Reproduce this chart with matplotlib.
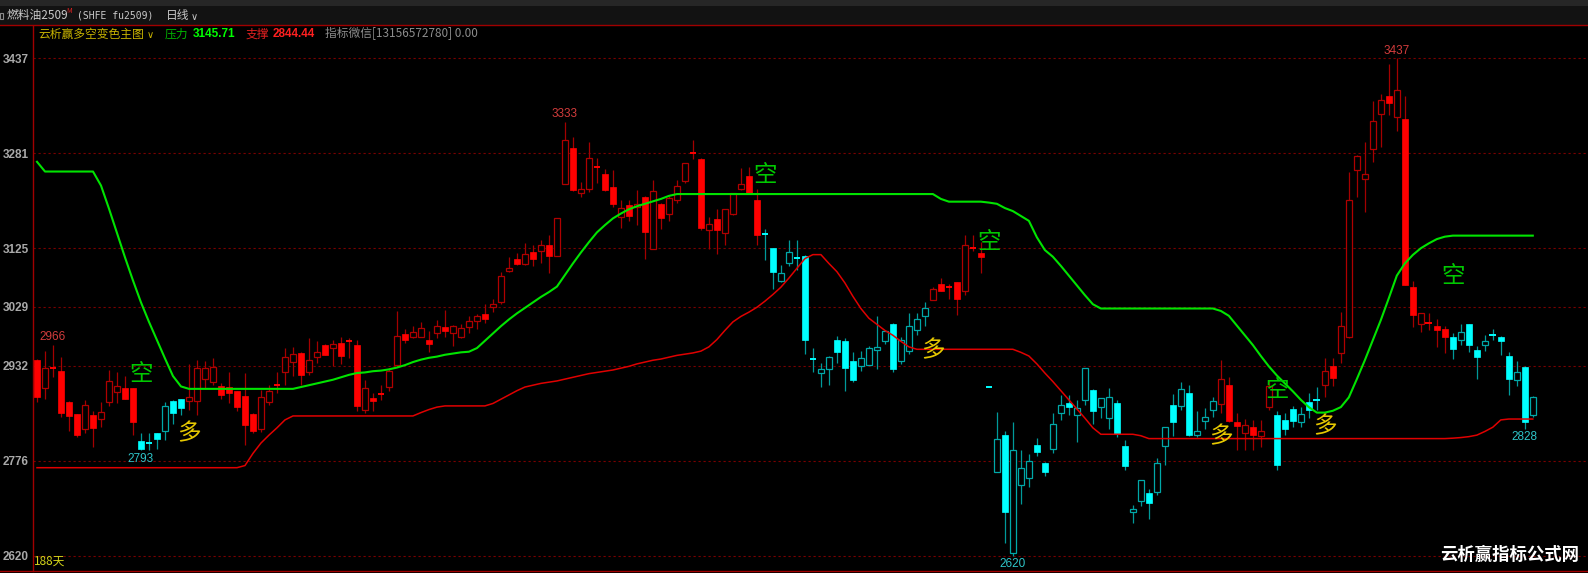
import matplotlib
matplotlib.use('Agg')
import matplotlib.pyplot as plt
from matplotlib.patches import Rectangle
from matplotlib.lines import Line2D

plt.rcParams['font.family'] = ['Noto Sans CJK SC', 'DejaVu Sans']

# ---- data (fu2509 daily, 188 bars) ----
opens = [
    2942, 2895, 2929, 2923, 2873, 2852, 2828, 2851, 2844, 2872,
    2889, 2895, 2895, 2808, 2805, 2821, 2825, 2874, 2877, 2874,
    2874, 2910, 2906, 2899, 2897, 2890, 2882, 2853, 2828, 2873,
    2900, 2921, 2938, 2953, 2921, 2946, 2966, 2961, 2970, 2972,
    2966, 2859, 2879, 2886, 2897, 2933, 2984, 2980, 2980, 2974,
    2985, 2996, 2986, 2980, 2996, 3006, 3017, 3028, 3037, 3088,
    3108, 3099, 3119, 3121, 3130, 3113, 3230, 3290, 3215, 3222,
    3258, 3247, 3225, 3176, 3196, 3193, 3209, 3124, 3198, 3182,
    3204, 3235, 3281, 3272, 3155, 3173, 3150, 3182, 3222, 3243,
    3205, 3149, 3125, 3072, 3100, 3109, 3113, 2943, 2920, 2927,
    2975, 2973, 2940, 2931, 2934, 2958, 2973, 3000, 2939, 2957,
    2990, 3014, 3040, 3066, 3061, 3069, 3054, 3125, 3117, 2897,
    2758, 2819, 2625, 2736, 2747, 2801, 2773, 2795, 2855, 2871,
    2851, 2876, 2892, 2865, 2846, 2871, 2800, 2691, 2709, 2723,
    2725, 2800, 2867, 2866, 2888, 2818, 2841, 2860, 2869, 2901,
    2840, 2821, 2832, 2816, 2865, 2851, 2843, 2861, 2840, 2873,
    2875, 2900, 2932, 2953, 2979, 3253, 3238, 3288, 3346, 3375,
    3340, 3338, 3062, 3001, 3003, 2997, 2993, 2979, 2974, 3000,
    2958, 2966, 2983, 2980, 2948, 2909, 2930, 2851,
]
highs = [
    2943, 2956, 2966, 2946, 2874, 2853, 2875, 2857, 2872, 2925,
    2921, 2915, 2896, 2821, 2822, 2822, 2873, 2875, 2878, 2935,
    2942, 2940, 2944, 2903, 2921, 2891, 2920, 2854, 2892, 2900,
    2922, 2961, 2963, 2954, 2977, 2973, 2967, 2975, 2980, 2977,
    2974, 2908, 2888, 2900, 2928, 3022, 2993, 2997, 3004, 2989,
    3007, 3023, 2999, 3000, 3014, 3017, 3034, 3041, 3086, 3111,
    3117, 3134, 3131, 3139, 3146, 3174, 3333, 3307, 3234, 3299,
    3273, 3255, 3253, 3204, 3204, 3221, 3210, 3237, 3199, 3210,
    3237, 3265, 3302, 3273, 3177, 3189, 3190, 3216, 3256, 3259,
    3223, 3156, 3126, 3098, 3139, 3139, 3114, 2961, 2937, 2948,
    2981, 2978, 2954, 2957, 2964, 3014, 2989, 3002, 2980, 3018,
    3018, 3036, 3061, 3076, 3066, 3070, 3146, 3146, 3136, 2897,
    2856, 2824, 2840, 2793, 2787, 2813, 2774, 2854, 2884, 2884,
    2876, 2928, 2893, 2879, 2895, 2876, 2810, 2703, 2744, 2729,
    2780, 2832, 2886, 2906, 2900, 2857, 2862, 2881, 2941, 2914,
    2854, 2844, 2843, 2843, 2909, 2857, 2854, 2866, 2865, 2887,
    2897, 2944, 2944, 3021, 3251, 3278, 3300, 3367, 3378, 3428,
    3437, 3375, 3072, 3019, 3018, 3008, 2997, 2986, 3001, 3001,
    2965, 2983, 2992, 2981, 2954, 2939, 2931, 2883,
]
lows = [
    2873, 2878, 2913, 2848, 2824, 2815, 2822, 2798, 2832, 2866,
    2871, 2877, 2818, 2793, 2794, 2795, 2810, 2836, 2851, 2859,
    2851, 2895, 2900, 2878, 2871, 2857, 2802, 2822, 2823, 2868,
    2887, 2901, 2915, 2900, 2917, 2936, 2950, 2931, 2935, 2945,
    2858, 2855, 2858, 2876, 2891, 2930, 2970, 2978, 2979, 2954,
    2977, 2979, 2965, 2978, 2985, 2992, 3002, 3020, 3033, 3086,
    3098, 3098, 3095, 3100, 3084, 3113, 3230, 3219, 3209, 3218,
    3232, 3219, 3192, 3158, 3170, 3163, 3107, 3124, 3157, 3170,
    3200, 3232, 3272, 3155, 3124, 3116, 3130, 3180, 3221, 3215,
    3130, 3106, 3058, 3070, 3096, 3090, 2952, 2922, 2897, 2901,
    2936, 2891, 2905, 2924, 2933, 2927, 2968, 2921, 2935, 2952,
    2983, 2997, 3040, 3054, 3041, 3015, 3048, 3120, 3085, 2897,
    2758, 2640, 2620, 2705, 2732, 2783, 2751, 2789, 2843, 2851,
    2807, 2868, 2837, 2846, 2828, 2815, 2761, 2674, 2701, 2681,
    2720, 2769, 2817, 2860, 2817, 2815, 2828, 2848, 2854, 2840,
    2794, 2793, 2794, 2799, 2859, 2761, 2818, 2832, 2831, 2846,
    2859, 2881, 2898, 2937, 2978, 3209, 3184, 3267, 3292, 3344,
    3317, 3064, 2996, 2988, 2990, 2962, 2953, 2943, 2966, 2955,
    2910, 2957, 2975, 2950, 2884, 2898, 2828, 2847,
]
closes = [
    2880, 2928, 2928, 2855, 2850, 2818, 2867, 2829, 2856, 2907,
    2899, 2877, 2839, 2796, 2804, 2812, 2866, 2855, 2862, 2880,
    2929, 2929, 2930, 2884, 2888, 2865, 2834, 2825, 2881, 2891,
    2899, 2946, 2951, 2917, 2941, 2954, 2950, 2967, 2948, 2971,
    2866, 2895, 2874, 2885, 2924, 2981, 2975, 2987, 2994, 2968,
    2997, 2989, 2998, 2994, 3005, 3014, 3009, 3033, 3080, 3092,
    3099, 3115, 3107, 3131, 3112, 3174, 3302, 3220, 3222, 3273,
    3257, 3220, 3197, 3191, 3178, 3198, 3152, 3219, 3175, 3207,
    3227, 3265, 3280, 3158, 3164, 3155, 3190, 3215, 3231, 3215,
    3147, 3148, 3086, 3084, 3119, 3108, 2975, 2942, 2926, 2947,
    2955, 2929, 2908, 2944, 2961, 2963, 2989, 2927, 2975, 2997,
    3008, 3027, 3058, 3054, 3060, 3042, 3131, 3124, 3110, 2897,
    2811, 2691, 2794, 2764, 2776, 2791, 2758, 2837, 2868, 2864,
    2863, 2928, 2857, 2879, 2880, 2820, 2767, 2696, 2744, 2707,
    2773, 2832, 2839, 2893, 2818, 2824, 2847, 2874, 2910, 2841,
    2833, 2835, 2819, 2824, 2898, 2769, 2828, 2841, 2853, 2859,
    2874, 2924, 2912, 2997, 3205, 3277, 3247, 3334, 3369, 3363,
    3385, 3065, 3015, 3019, 3002, 2990, 2979, 2960, 2988, 2966,
    2947, 2972, 2982, 2972, 2911, 2922, 2839, 2880,
]

# 压力 (resistance, green) and 支撑 (support, red)
resist = [
    3267, 3251, 3251, 3251, 3251, 3251, 3251, 3251, 3228, 3190,
    3150, 3110, 3072, 3036, 3004, 2974, 2944, 2915, 2898, 2894,
    2894, 2894, 2894, 2894, 2894, 2894, 2894, 2894, 2894, 2894,
    2894, 2894, 2894, 2897, 2900, 2903, 2906, 2909, 2913, 2917,
    2920, 2921, 2923, 2924, 2926, 2929, 2933, 2938, 2942, 2945,
    2947, 2950, 2952, 2954, 2955, 2961, 2973, 2985, 2997, 3008,
    3018, 3027, 3036, 3045, 3053, 3062, 3081, 3100, 3118, 3135,
    3151, 3163, 3174, 3182, 3189, 3194, 3198, 3202, 3206, 3211,
    3214, 3214, 3214, 3214, 3214, 3214, 3214, 3214, 3214, 3214,
    3214, 3214, 3214, 3214, 3214, 3214, 3214, 3214, 3214, 3214,
    3214, 3214, 3214, 3214, 3214, 3214, 3214, 3214, 3214, 3214,
    3214, 3214, 3214, 3206, 3201.5, 3201.5, 3201.5, 3201.5, 3201.5, 3200,
    3198, 3191, 3186, 3178, 3170, 3143, 3122, 3111, 3096, 3080,
    3064, 3048, 3033, 3026, 3026, 3026, 3026, 3026, 3026, 3026,
    3026, 3026, 3026, 3026, 3026, 3026, 3026, 3026, 3022, 3014,
    2998, 2982, 2966, 2948, 2931, 2916, 2903, 2890, 2876, 2864,
    2855, 2855, 2858, 2864, 2880, 2910, 2941, 2974, 3007, 3043,
    3080, 3100, 3114, 3125, 3133, 3140, 3144, 3145.71, 3145.71, 3145.71,
    3145.71, 3145.71, 3145.71, 3145.71, 3145.71, 3145.71, 3145.71, 3145.71,
]
support = [
    2764.5, 2764.5, 2764.5, 2764.5, 2764.5, 2764.5, 2764.5, 2764.5, 2764.5, 2764.5,
    2764.5, 2764.5, 2764.5, 2764.5, 2764.5, 2764.5, 2764.5, 2764.5, 2764.5, 2764.5,
    2764.5, 2764.5, 2764.5, 2764.5, 2764.5, 2764.5, 2768, 2788, 2805, 2818,
    2830, 2843, 2849.5, 2849.5, 2849.5, 2849.5, 2849.5, 2849.5, 2849.5, 2849.5,
    2849.5, 2849.5, 2849.5, 2849.5, 2849.5, 2849.5, 2849.5, 2849.5, 2855, 2860,
    2864, 2866, 2866, 2866, 2866, 2866, 2866, 2870, 2877, 2884,
    2891, 2897, 2900, 2903, 2905, 2907, 2910, 2913, 2916, 2919,
    2921, 2923, 2925, 2928, 2931, 2935, 2938, 2941, 2943, 2946,
    2949, 2951, 2953, 2956, 2963, 2975, 2990, 3004, 3013, 3020,
    3028, 3038, 3049, 3061, 3076, 3092, 3108, 3114.5, 3114.5, 3100,
    3086.5, 3068, 3046, 3026, 3010, 3000, 2990, 2982, 2972, 2963,
    2959, 2959, 2959, 2959, 2959, 2959, 2959, 2959, 2959, 2959,
    2959, 2959, 2959, 2954, 2948, 2935, 2920, 2906, 2891, 2876,
    2861, 2846, 2830, 2819.4, 2819.4, 2819.4, 2819.4, 2819.4, 2817, 2812.3,
    2812.3, 2812.3, 2812.3, 2812.3, 2812.3, 2812.3, 2812.3, 2812.3, 2812.3, 2812.3,
    2812.3, 2812.3, 2812.3, 2812.3, 2812.3, 2812.3, 2812.3, 2812.3, 2812.3, 2812.3,
    2812.3, 2812.3, 2812.3, 2812.3, 2812.3, 2812.3, 2812.3, 2812.3, 2812.3, 2812.3,
    2812.3, 2812.3, 2812.3, 2812.3, 2812.3, 2812.3, 2812.3, 2813, 2814, 2815.5,
    2818, 2824, 2831, 2843, 2844.44, 2844.44, 2844.44, 2844.44,
]

# signal bars: 空 -> bars turn cyan, 多 -> bars turn red
sig_idx = [13, 19, 91, 112, 119, 148, 155, 161, 177]
sig_txt = ['空', '多', '空', '多', '空', '多', '空', '多', '空']
sig_price = [2917, 2821, 3244, 2956, 3135, 2816, 2892, 2831, 3078]

peak_idx = [2, 66, 170]
trough_idx = [13, 122, 186]
yticks = [3437, 3281, 3125, 3029, 2932, 2776, 2620]

n = len(closes)
idx = list(range(n))

# bar colour state from signals
cyan_state = []
state = False
sig_map = dict(zip(sig_idx, sig_txt))
for i in idx:
    if i in sig_map:
        state = sig_map[i] == '空'
    cyan_state.append(state)

W, H = 1588, 573
fx = lambda x: x / W
fy = lambda y: 1 - y / H

fig = plt.figure(figsize=(W / 100, H / 100), dpi=100, facecolor='black')
fig.patches.append(Rectangle((0, fy(25)), 1, 25 / H, transform=fig.transFigure,
                             facecolor='#121212', edgecolor='none', zorder=0))
fig.patches.append(Rectangle((0, fy(6)), 1, 6 / H, transform=fig.transFigure,
                             facecolor='#262626', edgecolor='none', zorder=0))

ax = fig.add_axes([fx(33), fy(570.7), (W - 33) / W, (570.7 - 25) / H])
ax.set_facecolor('black')
ax.set_xlim(-0.5, 193.9)
ax.set_ylim(2595.3, 3491.7)
for s in ['top', 'right', 'bottom']:
    ax.spines[s].set_visible(False)
ax.spines['left'].set_color('#a00000')
ax.spines['left'].set_linewidth(1)

for t in yticks:
    ax.axhline(t, color='#7a0000', lw=0.8, ls=(0, (2, 2.5)), zorder=0.5)
ax.set_xticks([])
ax.set_yticks(yticks)
ax.set_yticklabels([str(t) for t in yticks], fontfamily='Liberation Sans',
                   fontweight='bold', fontsize=8.5, color='#a9a9a9')
ax.tick_params(axis='y', length=0, pad=3)

# candles
for i in idx:
    o, h, l, c = opens[i], highs[i], lows[i], closes[i]
    if cyan_state[i]:
        bright, dark, edge = '#00ffff', '#009a9a', '#00a8a8'
    else:
        bright, dark, edge = '#ff0000', '#a40000', '#b00000'
    ax.vlines(i, l, h, color=dark, lw=0.9, zorder=2)
    if abs(c - o) < 1.5:
        ax.hlines(o, i - 0.42, i + 0.42, color=bright, lw=1.4, zorder=3)
    elif c > o:
        ax.add_patch(Rectangle((i - 0.4, o), 0.8, c - o, facecolor='black',
                               edgecolor=edge, lw=0.9, zorder=3))
    else:
        ax.add_patch(Rectangle((i - 0.4, c), 0.8, o - c, facecolor=bright,
                               edgecolor=bright, lw=0.5, zorder=3))

ax.plot(idx, resist, color='#00e400', lw=1.5, zorder=5)
ax.plot(idx, support, color='#e00000', lw=1.1, zorder=5)

for i, s, p in zip(sig_idx, sig_txt, sig_price):
    col = '#00c800' if s == '空' else '#e6c800'
    ax.text(i, p, s, color=col, fontsize=17, ha='center', va='center', zorder=6)

for i in peak_idx:
    ax.annotate(str(highs[i]), (i, highs[i]), xytext=(0, 5.6), textcoords='offset points',
                ha='center', va='center', color='#d23c3c', fontsize=8.5,
                fontfamily='Liberation Sans', zorder=6)
for i in trough_idx:
    ax.annotate(str(lows[i]), (i, lows[i]), xytext=(0, -6), textcoords='offset points',
                ha='center', va='center', color='#2ec4c8', fontsize=8.5,
                fontfamily='Liberation Sans', zorder=6)

# frame lines
fig.add_artist(Line2D([0, 1], [fy(25), fy(25)], transform=fig.transFigure, color='#a00000', lw=1))
fig.add_artist(Line2D([0, 1], [fy(570.7), fy(570.7)], transform=fig.transFigure, color='#a00000', lw=1))

# header
fig.patches.append(Rectangle((fx(0), fy(19)), fx(3), 6 / H, transform=fig.transFigure,
                             facecolor='none', edgecolor='#8a8a8a', lw=0.8))
fig.text(fx(7), fy(16), '燃料油2509', color='#c8c8c8', fontsize=8.5, va='center')
fig.text(fx(66), fy(11), 'M', color='#e02020', fontsize=5, va='center')
fig.text(fx(77), fy(16), '(SHFE fu2509)', color='#c8c8c8', fontsize=7,
         fontfamily='DejaVu Sans Mono', va='center')
fig.text(fx(166), fy(16), '日线', color='#c8c8c8', fontsize=8.5, va='center')
fig.text(fx(191), fy(17), '∨', color='#c8c8c8', fontsize=7, va='center',
         fontfamily=['DejaVu Sans'])

fig.text(fx(38), fy(34), '云析赢多空变色主图', color='#c8b400', fontsize=8.5, va='center')
fig.text(fx(147), fy(35), '∨', color='#c8b400', fontsize=7, va='center', fontfamily=['DejaVu Sans'])
fig.text(fx(165), fy(34), '压力', color='#00b400', fontsize=8.5, va='center')
fig.text(fx(193), fy(34), f'{resist[-1]:.2f}', color='#00ff00', fontsize=8.5, va='center',
         fontfamily='Liberation Sans', fontweight='bold')
fig.text(fx(245.5), fy(34), '支撑', color='#e02020', fontsize=8.5, va='center')
fig.text(fx(272.5), fy(34), f'{support[-1]:.2f}', color='#ff2020', fontsize=8.5, va='center',
         fontfamily='Liberation Sans', fontweight='bold')
fig.text(fx(325), fy(34), '指标微信[13156572780] 0.00', color='#8c8c8c', fontsize=8.5, va='center')

fig.text(fx(34), fy(561), '188天', color='#d4d41a', fontsize=8.5, va='center')
fig.text(fx(1510), fy(555), '云析赢指标公式网', color='white', fontsize=12.5,
         fontweight='bold', ha='center', va='center')

fig.savefig('out.png', dpi=100, facecolor='black')
